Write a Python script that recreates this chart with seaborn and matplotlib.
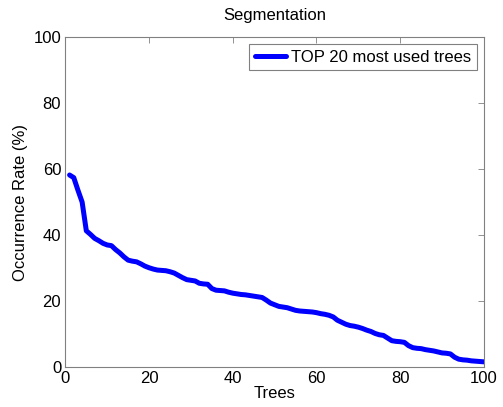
import matplotlib
matplotlib.use("Agg")
import matplotlib.pyplot as plt
import seaborn as sns
import pandas as pd

trees = list(range(1, 101))
occurrence = [
    58.2, 57.4, 53.6, 50.0, 41.3, 40.2, 39.0, 38.3, 37.5, 37.0,
    36.8, 35.6, 34.6, 33.4, 32.4, 32.1, 31.9, 31.3, 30.6, 30.1,
    29.7, 29.4, 29.3, 29.2, 28.9, 28.5, 27.8, 27.1, 26.5, 26.3,
    26.1, 25.4, 25.2, 25.1, 23.8, 23.3, 23.2, 23.1, 22.7, 22.4,
    22.2, 22.0, 21.9, 21.7, 21.5, 21.3, 21.1, 20.3, 19.4, 18.9,
    18.4, 18.2, 18.0, 17.6, 17.2, 17.0, 16.9, 16.8, 16.7, 16.5,
    16.2, 16.0, 15.7, 15.2, 14.2, 13.6, 13.0, 12.6, 12.4, 12.1,
    11.7, 11.2, 10.8, 10.2, 9.8, 9.6, 8.8, 8.0, 7.8, 7.7,
    7.5, 6.5, 5.9, 5.7, 5.6, 5.3, 5.1, 4.9, 4.6, 4.3,
    4.2, 4.0, 3.0, 2.4, 2.2, 2.1, 1.9, 1.8, 1.7, 1.6,
]
series_name = "TOP 20 most used trees"
ticks = [0, 20, 40, 60, 80, 100]

sns.set_style("white")
plt.rcParams["font.family"] = ["Liberation Sans", "DejaVu Sans"]
plt.rcParams["font.size"] = 12
plt.rcParams["text.color"] = "black"
plt.rcParams["axes.labelcolor"] = "black"

df = pd.DataFrame({"Trees": trees, "Occurrence": occurrence, "series": series_name})

fig = plt.figure(figsize=(5.03, 4.07), dpi=100)
ax = fig.add_axes([0.130, 0.098, 0.832, 0.811])

sns.lineplot(data=df, x="Trees", y="Occurrence", hue="series",
             palette=["#0000ff"], linewidth=3.6, ax=ax)

ax.set_xlim(0, 100)
ax.set_ylim(0, 100)
ax.set_xticks(ticks)
ax.set_yticks(ticks)
ax.tick_params(direction="in", length=4, width=0.6, labelcolor="black",
               labelsize=12, top=True, right=True, pad=3, color="#808080")
for sp in ax.spines.values():
    sp.set_visible(True)
    sp.set_color("#808080")
    sp.set_linewidth(0.8)

ax.set_xlabel("Trees", fontsize=12, labelpad=0, color="black")
ax.set_ylabel("Occurrence Rate (%)", fontsize=12, labelpad=4, color="black")
ax.set_title("Segmentation", fontsize=12, pad=12, color="black")

leg = ax.legend(loc="upper right", fontsize=12, frameon=True, fancybox=False,
                handlelength=1.9, borderpad=0.35, handletextpad=0.3,
                borderaxespad=0.4)
leg.get_frame().set_edgecolor("#808080")
leg.get_frame().set_linewidth(0.8)
leg.get_frame().set_alpha(1)

fig.savefig("out.png", dpi=100)
